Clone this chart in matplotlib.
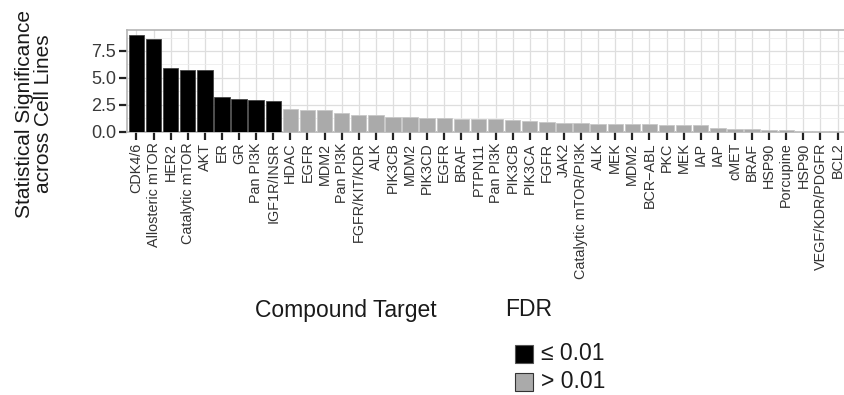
import numpy as np
import matplotlib
matplotlib.use("Agg")
import matplotlib.pyplot as plt
from matplotlib.patches import Rectangle

plt.rcParams['font.family'] = ['Liberation Sans', 'DejaVu Sans']

# Compound targets, sorted by significance
targets = ['CDK4/6', 'Allosteric mTOR', 'HER2', 'Catalytic mTOR', 'AKT', 'ER', 'GR',
           'Pan PI3K', 'IGF1R/INSR', 'HDAC', 'EGFR', 'MDM2', 'Pan PI3K', 'FGFR/KIT/KDR',
           'ALK', 'PIK3CB', 'MDM2', 'PIK3CD', 'EGFR', 'BRAF', 'PTPN11', 'Pan PI3K',
           'PIK3CB', 'PIK3CA', 'FGFR', 'JAK2', 'Catalytic mTOR/PI3K', 'ALK', 'MEK',
           'MDM2', 'BCR\u2212ABL', 'PKC', 'MEK', 'IAP', 'IAP', 'cMET', 'BRAF', 'HSP90',
           'Porcupine', 'HSP90', 'VEGF/KDR/PDGFR', 'BCL2']

significance = [9.0, 8.6, 5.9, 5.75, 5.7, 3.25, 3.0, 2.95, 2.8, 2.12, 2.02, 1.96, 1.74,
                1.52, 1.49, 1.37, 1.33, 1.30, 1.22, 1.15, 1.12, 1.12, 1.03, 0.96, 0.93,
                0.81, 0.75, 0.74, 0.74, 0.68, 0.68, 0.65, 0.62, 0.59, 0.37, 0.24, 0.23,
                0.12, 0.12, 0.06, 0.03, 0.02]

# FDR <= 0.01 for the first nine targets
fdr_low = [True] * 9 + [False] * 33

yticks = [0.0, 2.5, 5.0, 7.5]
ytick_labels = ['0.0', '2.5', '5.0', '7.5']
legend_labels = ['\u2264 0.01', '> 0.01']

black = '#000000'
grey = '#aaaaaa'
W, H = 844, 395

fig = plt.figure(figsize=(W / 100, H / 100), dpi=100)
ax = fig.add_axes([127 / W, 1 - 131.5 / H, (847 - 127) / W, (131.5 - 30) / H])

x = np.arange(len(targets))
colors = [black if f else grey for f in fdr_low]
edges = ['#444444' if f else '#c8c8c8' for f in fdr_low]
ax.bar(x, significance, width=0.9, color=colors, edgecolor=edges, linewidth=0.6, zorder=3)

ax.set_xlim(-0.55, len(targets) - 0.45)
ax.set_ylim(0, 9.45)

ax.set_xticks(x)
ax.set_xticklabels(targets, rotation=90, fontsize=10.4, color='#333333')
ax.set_yticks(yticks)
ax.set_yticklabels(ytick_labels, fontsize=13, color='#3a3a3a')
ax.set_yticks([1.25, 3.75, 6.25, 8.75], minor=True)
ax.tick_params(axis='both', which='major', length=6, width=1.6, color='#222222', pad=2)
ax.tick_params(axis='y', which='minor', length=0)

# grid like a light ggplot theme
ax.grid(True, which='major', color='#dedede', linewidth=0.9, zorder=0)
ax.grid(True, which='minor', axis='y', color='#ececec', linewidth=0.6, zorder=0)
ax.set_axisbelow(True)
for s in ax.spines.values():
    s.set_color('#b5b5b5')
    s.set_linewidth(1.2)

# y axis title, two lines
fig.text(25 / W, 1 - 114 / H, 'Statistical Significance', rotation=90,
         ha='center', va='center', fontsize=15, color='#1a1a1a')
fig.text(44 / W, 1 - 114 / H, 'across Cell Lines', rotation=90,
         ha='center', va='center', fontsize=15, color='#1a1a1a')

# bottom legend area
fig.text(255 / W, 1 - 310 / H, 'Compound Target', ha='left', va='center',
         fontsize=16.5, color='#1a1a1a')
fig.text(505 / W, 1 - 310 / H, 'FDR', ha='left', va='center', fontsize=16.5,
         color='#1a1a1a')

key_fill = [black, grey]
key_edge = ['#555555', '#333333']
key_y = [354, 382]
for lab, fc, ec, ky in zip(legend_labels, key_fill, key_edge, key_y):
    fig.patches.append(Rectangle((515 / W, 1 - (ky + 9) / H), 18 / W, 18 / H,
                                 transform=fig.transFigure, facecolor=fc,
                                 edgecolor=ec, linewidth=0.8))
    fig.text(541 / W, 1 - ky / H, lab, ha='left', va='center', fontsize=16.5,
             color='#1a1a1a')

fig.savefig('out.png', dpi=100)
